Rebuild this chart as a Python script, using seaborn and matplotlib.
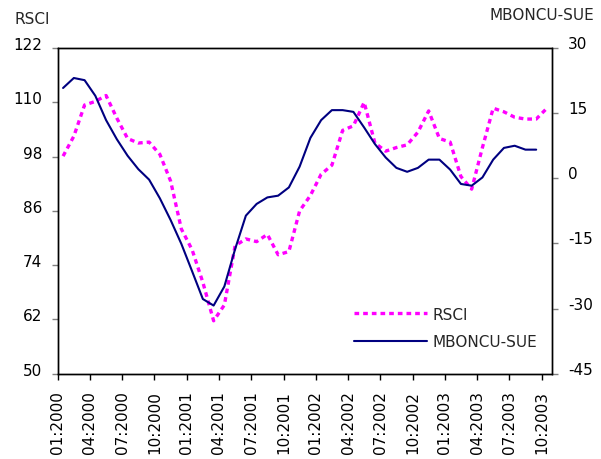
import numpy as np
import pandas as pd
import matplotlib
matplotlib.use("Agg")
import matplotlib.pyplot as plt
import seaborn as sns
from matplotlib.transforms import ScaledTranslation
from matplotlib.lines import Line2D

# Monthly data, 01:2000 onwards
rsci = [98.1, 102.5, 109.4, 110.2, 111.5, 106.5, 102.0, 101.0, 101.2, 98.5,
        92.6, 82.0, 77.4, 70.2, 61.7, 65.2, 78.3, 79.8, 79.2, 80.8,
        76.3, 77.0, 86.0, 89.4, 94.1, 96.1, 103.8, 104.8, 110.0, 101.0,
        99.2, 100.0, 100.6, 103.4, 108.1, 102.0, 101.2, 93.6, 90.8, 100.0,
        108.7, 107.9, 106.7, 106.3, 106.3, 108.7]
mboncu_sue = [20.8, 23.1, 22.6, 19.0, 13.4, 9.0, 5.2, 2.1, -0.3, -4.6,
              -9.6, -15.1, -21.4, -27.8, -29.3, -24.9, -16.3, -8.6, -5.9, -4.4,
              -4.0, -2.1, 2.7, 9.3, 13.4, 15.7, 15.7, 15.3, 11.7, 7.9,
              4.8, 2.4, 1.5, 2.4, 4.3, 4.3, 2.0, -1.3, -1.7, 0.2,
              4.3, 7.0, 7.5, 6.6, 6.6]
tick_labels = ["01:2000", "04:2000", "07:2000", "10:2000",
               "01:2001", "04:2001", "07:2001", "10:2001",
               "01:2002", "04:2002", "07:2002", "10:2002",
               "01:2003", "04:2003", "07:2003", "10:2003"]
left_ticks = [50, 62, 74, 86, 98, 110, 122]
right_ticks = [-45, -30, -15, 0, 15, 30]

sns.set_theme(style="white")
plt.rcParams['font.family'] = ['DejaVu Sans']
plt.rcParams['axes.unicode_minus'] = False

fig = plt.figure(figsize=(6.01, 4.60), dpi=100)
ax = fig.add_axes([0.096, 0.1854, 0.823, 0.708])
ax2 = ax.twinx()

df_r = pd.DataFrame({"month": np.arange(len(rsci)) + 0.5, "RSCI": rsci})
df_m = pd.DataFrame({"month": np.arange(len(mboncu_sue)) + 0.5, "MBONCU-SUE": mboncu_sue})

sns.lineplot(data=df_r, x="month", y="RSCI", ax=ax, color="#FF00FF", linewidth=2.4)
ax.lines[-1].set_dashes((1.4, 1.2))
sns.lineplot(data=df_m, x="month", y="MBONCU-SUE", ax=ax2, color="#000080", linewidth=1.5)

ax.set_xlim(0, 46)
ax.set_ylim(50, 122)
ax2.set_ylim(-45, 30)
ax.set_yticks(left_ticks)
ax2.set_yticks(right_ticks)
ax.set_xticks(np.arange(len(tick_labels)) * 3)
ax.set_xticklabels(tick_labels, rotation=90)
ax.set_xlabel("")
ax.set_ylabel("")
ax2.set_ylabel("")

for a in (ax, ax2):
    for s in a.spines.values():
        s.set_color("black")
        s.set_linewidth(1.0)

ax.tick_params(axis="y", which="major", left=True, length=4.5, width=1.0,
               color="#808080", labelsize=11, pad=6.5, labelcolor="black")
ax2.tick_params(axis="y", which="major", right=True, length=4.5, width=1.0,
                color="#808080", labelsize=11, pad=7, labelcolor="black")
ax.tick_params(axis="x", which="major", bottom=True, length=4.5, width=1.0,
               color="black", labelsize=11, pad=7, labelcolor="black")

off = ScaledTranslation(0, 5 / 100, fig.dpi_scale_trans)
for t in ax.yaxis.get_major_ticks():
    t.label1.set_transform(t.label1.get_transform() + off)
off2 = ScaledTranslation(0, 6 / 100, fig.dpi_scale_trans)
for t in ax2.yaxis.get_major_ticks():
    t.label2.set_transform(t.label2.get_transform() + off2)

handles = [Line2D([], [], color="#FF00FF", linewidth=2.4, dashes=(1.4, 1.2)),
           Line2D([], [], color="#000080", linewidth=1.5)]
ax2.legend(handles, ["RSCI", "MBONCU-SUE"], loc="upper left",
           bbox_to_anchor=(0.571, 0.248), frameon=False, fontsize=11,
           handlelength=4.8, handletextpad=0.35, labelspacing=0.8)

fig.text(14 / 601, 1 - 19 / 460, "RSCI", ha="left", va="center", fontsize=11)
fig.text(489 / 601, 1 - 15 / 460, "MBONCU-SUE", ha="left", va="center", fontsize=11)

fig.savefig("out.png", dpi=100)
